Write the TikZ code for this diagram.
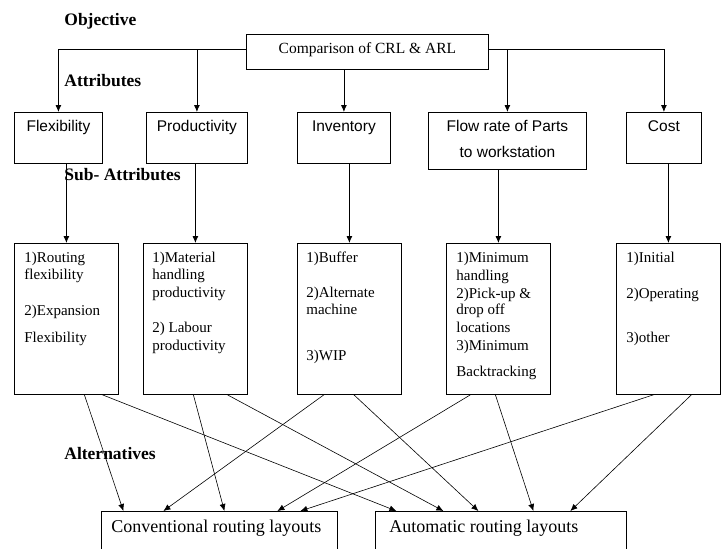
\documentclass[tikz,border=0pt]{standalone}
\usepackage{fontspec}
\setmainfont{Liberation Serif}
\setsansfont{Liberation Sans}
\usetikzlibrary{arrows.meta}

\begin{document}
\begin{tikzpicture}[x=1pt,y=-1pt,>={Latex[length=7pt,width=6pt]},line width=0.8pt,
	box/.style={draw,anchor=north west,inner sep=0pt},
	heading/.style={anchor=base west,inner sep=0pt,font=\fontsize{17.5}{20}\selectfont\bfseries},
	attrtext/.style={anchor=base,inner sep=0pt,font=\fontsize{15.5}{18}\selectfont\sffamily},
	subtext/.style={anchor=base west,inner sep=0pt,font=\fontsize{15}{18}\selectfont},
	alttext/.style={anchor=base west,inner sep=0pt,font=\fontsize{18}{20}\selectfont}]
	\useasboundingbox (0,0) rectangle (726,549);
	\clip (0,0) rectangle (726,549);

	% level headings
	\node[heading] (objective) at (64,25) {Objective};
	\node[heading] (attributes) at (64,86.5) {Attributes};
	\node[heading] (subattributes) at (64,180) {Sub- Attributes};
	\node[heading] (alternatives) at (64,459) {Alternatives};

	% objective
	\node[box,minimum width=242pt,minimum height=35pt] (goal) at (246,34) {};
	\node[subtext,anchor=base,font=\fontsize{15.5}{18}\selectfont] (goaltext) at ([yshift=-19pt]goal.north) {Comparison of CRL \& ARL};

	% attributes
	\node[box,minimum width=88pt,minimum height=51pt] (flex) at (14,112) {};
	\node[box,minimum width=101pt,minimum height=51pt] (prod) at (146,112) {};
	\node[box,minimum width=93pt,minimum height=51pt] (inv) at (297,112) {};
	\node[box,minimum width=158pt,minimum height=57pt] (flow) at (428,112) {};
	\node[box,minimum width=75pt,minimum height=51pt] (cost) at (626,112) {};
	\foreach \n/\t in {flex/Flexibility, prod/Productivity, inv/Inventory, cost/Cost}
		\node[attrtext] (\n-t) at ([yshift=-19.5pt]\n.north) {\t};
	\node[attrtext] (flow-t) at ([yshift=-19.5pt]flow.north) {Flow rate of Parts};
	\node[attrtext] (flow-t2) at ([yshift=-45.5pt]flow.north) {to workstation};

	% sub-attributes
	\foreach \n/\x in {sflex/14, sprod/143, sinv/297, sflow/446, scost/616}
		\node[box,minimum width=104pt,minimum height=151pt] (\n) at (\x,243) {};
	\foreach \t/\y [count=\i] in {1)Routing/262, flexibility/279, 2)Expansion/315, Flexibility/342}
		\node[subtext] (sflex-\i) at (24,\y) {\t};
	\foreach \t/\y [count=\i] in {1)Material/262, handling/279, productivity/297, 2) Labour/332, productivity/350}
		\node[subtext] (sprod-\i) at (152,\y) {\t};
	\foreach \t/\y [count=\i] in {1)Buffer/262, 2)Alternate/297, machine/314.5, 3)WIP/360}
		\node[subtext] (sinv-\i) at (306,\y) {\t};
	\foreach \t/\y [count=\i] in {1)Minimum/262, handling/280, 2)Pick-up \&/298, drop off/314.5, locations/332, 3)Minimum/350, Backtracking/376.5}
		\node[subtext] (sflow-\i) at (456,\y) {\t};
	\foreach \t/\y [count=\i] in {1)Initial/262, 2)Operating/298, 3)other/342}
		\node[subtext] (scost-\i) at (626,\y) {\t};

	% alternatives
	\node[box,minimum width=236pt,minimum height=60pt] (conv) at (101,511) {};
	\node[box,minimum width=251pt,minimum height=60pt] (auto) at (375,511) {};
	\node[alttext] (conv-t) at ([xshift=10pt,yshift=-21pt]conv.north west) {Conventional routing layouts};
	\node[alttext] (auto-t) at ([xshift=14pt,yshift=-21pt]auto.north west) {Automatic routing layouts};

	% objective to attributes
	\coordinate (bus) at (0,49.5);
	\draw[->] (goal.west |- bus) -| (flex.north);
	\draw[->] (prod.north |- bus) -- (prod.north);
	\draw[->] (inv.north |- goal.south) -- (inv.north);
	\draw[->] (goal.east |- bus) -| (cost.north);
	\draw[->] (flow.north |- bus) -- (flow.north);

	% attributes to sub-attributes
	\foreach \a/\s in {flex/sflex, prod/sprod, inv/sinv, flow/sflow, cost/scost}
		\draw[->] (\a.south -| \s.north) -- (\s.north);

	% sub-attributes to alternatives
	\foreach \s/\a/\d/\b in {sflex/18/conv/-96, sflex/36/auto/-104.5, sprod/-2/conv/5, sprod/32/auto/-57.5,
			sinv/-25.5/conv/-56, sinv/4.5/auto/-22.5, sflow/-28/conv/58, sflow/-3/auto/32.5,
			scost/-15/conv/81, scost/23/auto/69.5}
		\draw[->,line width=0.6pt] ([xshift=\a pt]\s.south) -- ([xshift=\b pt]\d.north);
\end{tikzpicture}
\end{document}
